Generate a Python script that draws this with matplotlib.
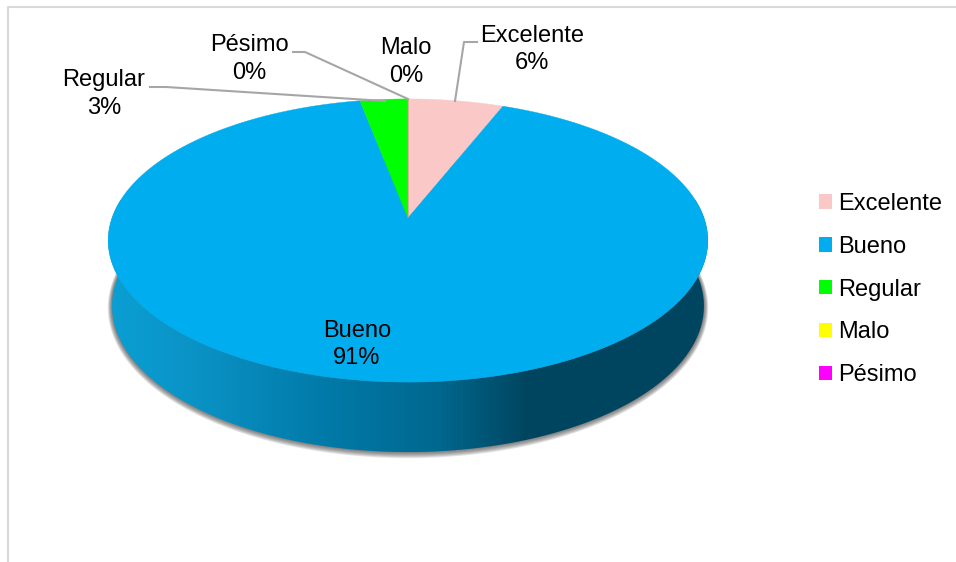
import numpy as np
import matplotlib
matplotlib.use("Agg")
import matplotlib.pyplot as plt
from matplotlib.colors import LinearSegmentedColormap
from matplotlib.patches import Patch, Polygon

plt.rcParams['font.family'] = ['Liberation Sans', 'DejaVu Sans']

categories = ["Excelente", "Bueno", "Regular", "Malo", "Pésimo"]
values = [6, 91, 3, 0, 0]
colors = ["#FBC8C8", "#00AEEF", "#00FF00", "#FFFF00", "#FF00FF"]

# label centres: name line and percent line
label_pos = {
    "Excelente": (532, 36, 63),
    "Bueno": (357, 331, 358),
    "Regular": (104, 80, 108),
    "Malo": (406, 48, 76),
    "Pésimo": (249, 45, 73),
}
leaders = [
    ([477, 464, 455], [42, 42, 101]),
    ([293, 305, 408], [52, 52, 99]),
    ([150, 166, 385], [87, 87, 101]),
]

# tilted disc seen in perspective
CX, CY = 408, 218
RX, RY, K = 296, 138, 0.159
DEPTH = 64.7


def project(theta, sx=1.0, sy=1.0, dy=0.0):
    # theta runs clockwise from twelve o'clock
    x, y = np.sin(theta), np.cos(theta)
    w = 1 + K * y
    return np.column_stack((CX + sx * RX * x / w, CY + dy - sy * RY * y / w))


fig = plt.figure(figsize=(9.56, 5.62), dpi=100, facecolor='white')
ax = fig.add_axes([0, 0, 1, 1])

# chart frame, open on the right and bottom
ax.plot([8, 8, 956], [562, 7, 7], color='#d9d9d9', lw=1.5, zorder=1)

# soft shadow under the rim
full = np.linspace(0, 2 * np.pi, 400)
for i in range(8):
    grow = (7 - i) * 0.6
    rim = project(full, 0.987 + grow / 296, 1.032 + grow / 141, DEPTH + 0.3 * grow)
    ax.add_patch(Polygon(rim, closed=True, fc='#404040', ec='none',
                         alpha=0.13, zorder=2))

# side wall with its horizontal shading
lower = np.linspace(np.pi / 2 - 0.16, 3 * np.pi / 2 + 0.16, 300)
top_edge = project(lower)
low_edge = project(lower, 0.987, 1.032, DEPTH)
side = Polygon(np.vstack((top_edge, low_edge[::-1])), closed=True,
               fc='none', ec='none', transform=ax.transData)
ax.add_patch(side)
shade = LinearSegmentedColormap.from_list("side", [
    (0.0, "#0A9FD4"), (0.15, "#0A92C4"), (0.38, "#0078A6"),
    (0.55, "#00688F"), (0.70, "#00455F"), (1.0, "#00455F"),
])
img = ax.imshow(np.linspace(0, 1, 400)[None, :], cmap=shade, aspect='auto',
                extent=(108, 708, 460, 200), zorder=3)
img.set_clip_path(side)

# top face, one wedge per category
start = 0.0
handles = []
total = sum(values)
for name, val, col in zip(categories, values, colors):
    sweep = 2 * np.pi * val / total
    arc = project(np.linspace(start, start + sweep, 300))
    ax.add_patch(Polygon(np.vstack(([CX, CY], arc)), closed=True, fc=col,
                         ec=col, lw=0.3, zorder=4))
    handles.append(Patch(fc=col, ec='none', label=name))
    start += sweep

for xs, ys in leaders:
    ax.plot(xs, ys, color='#a6a6a6', lw=1.5, zorder=5)

for name, val in zip(categories, values):
    x, y1, y2 = label_pos[name]
    ax.text(x, y1, name, fontsize=17, ha='center', va='center', color='black', zorder=6)
    ax.text(x, y2, f"{val}%", fontsize=17, ha='center', va='center', color='black', zorder=6)

ax.legend(handles=handles, loc='upper left', bbox_to_anchor=(819 / 956, 1 - 193 / 562),
          frameon=False, fontsize=17, handlelength=0.56, handleheight=0.56,
          handletextpad=0.27, labelspacing=0.88, borderpad=0, borderaxespad=0)

ax.set_xlim(0, 956)
ax.set_ylim(562, 0)
ax.axis('off')

fig.savefig("out.png", dpi=100)
